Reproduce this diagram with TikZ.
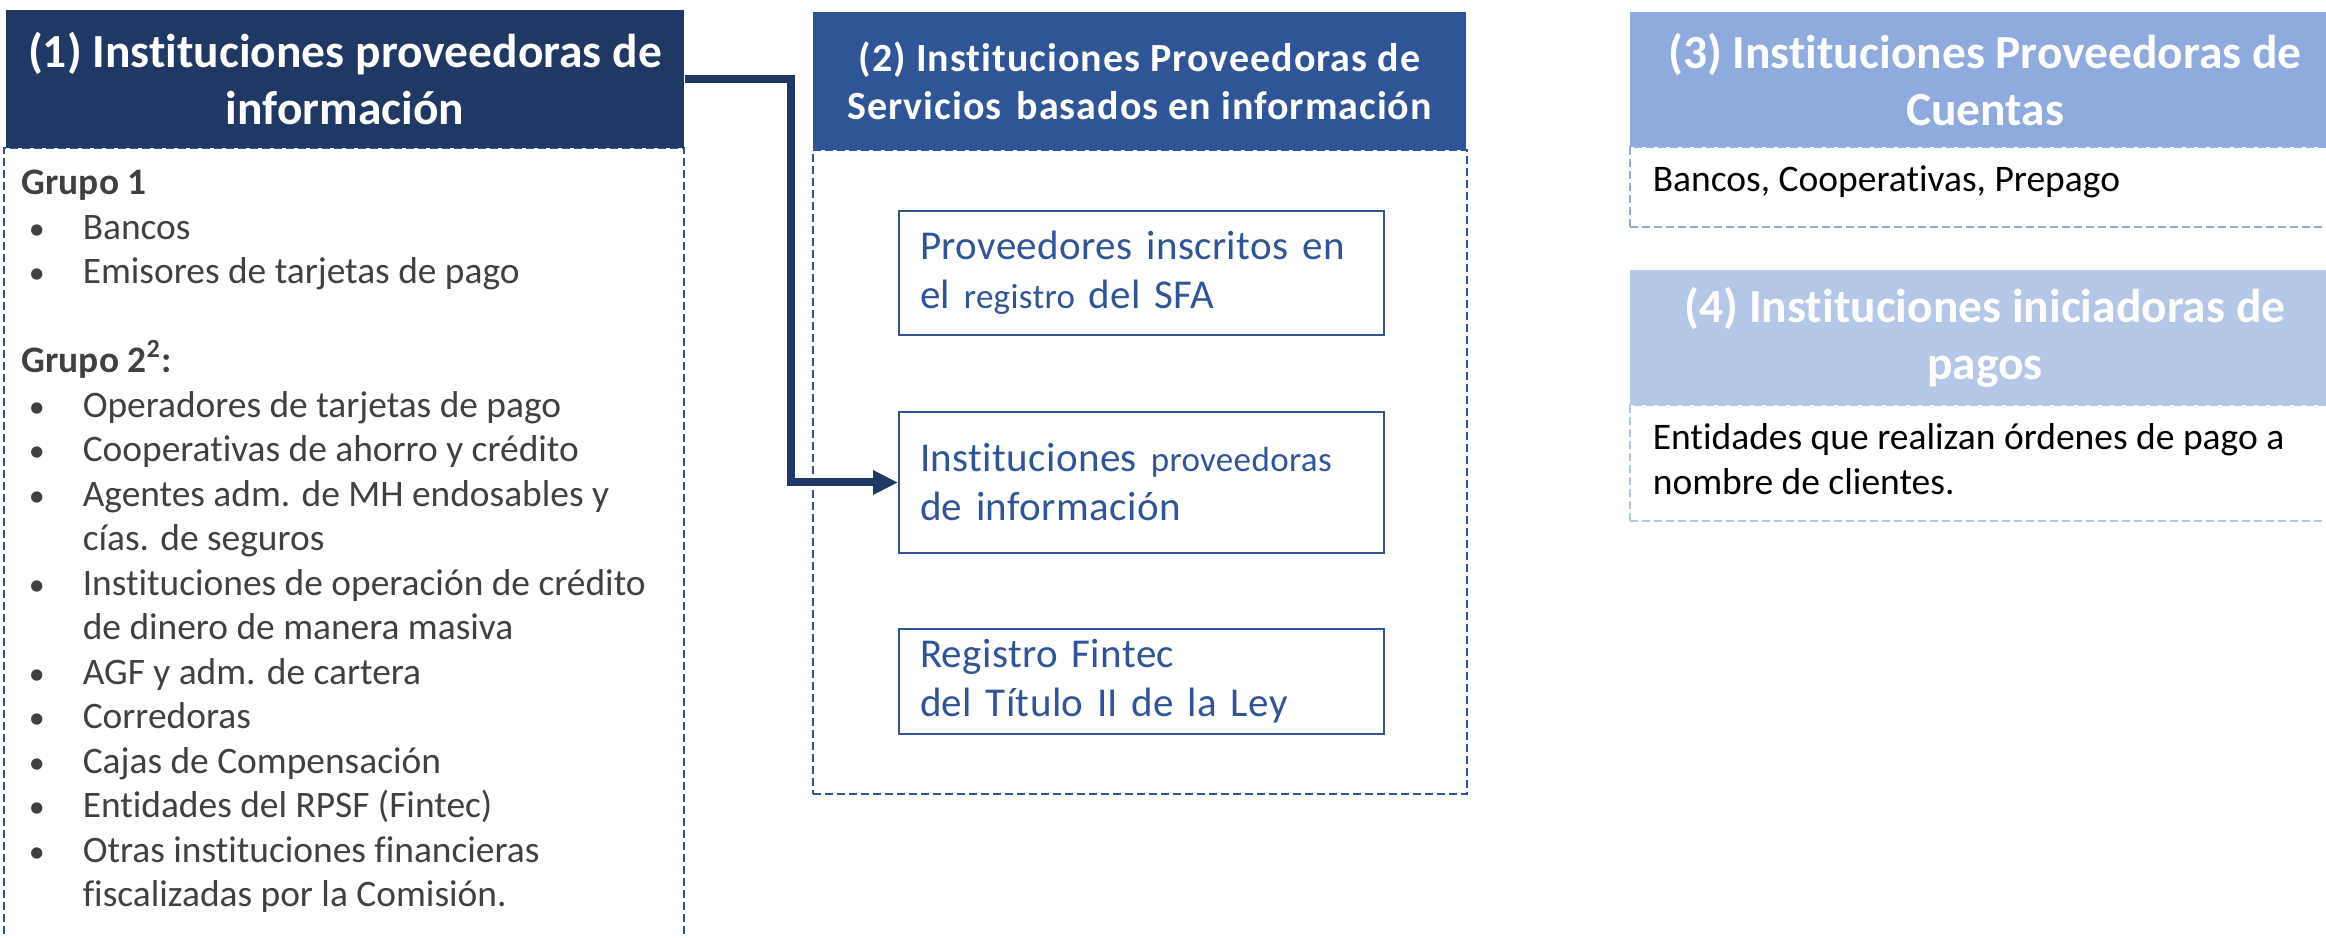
\documentclass[tikz,border=0pt]{standalone}
\usepackage{fontspec}
\setmainfont{Carlito}[RawFeature={-liga;-clig;-calt}]
\newfontfamily\spaced[LetterSpace=2.5,RawFeature={-liga;-clig;-calt}]{Carlito}
\newfontfamily\airy[LetterSpace=1,RawFeature={-liga;-clig;-calt}]{Carlito}
\usetikzlibrary{arrows.meta}
\definecolor{navy}{HTML}{203864}
\definecolor{blue2}{HTML}{2F5597}
\definecolor{blue3}{HTML}{8FAADC}
\definecolor{blue4}{HTML}{B4C7E7}
\definecolor{gray}{HTML}{404040}
\newcommand\grp[1]{\textbf{#1}}
\newcommand\itm[1]{\hspace*{1.75pt}\makebox[13.5pt][l]{\fontsize{8}{8}\selectfont\textbullet}#1}
\newcommand\cnt[1]{\hspace*{15.25pt}#1}
\newcommand\sm[1]{{\fontsize{8.75}{12.25}\selectfont #1}}

\begin{document}
\begin{tikzpicture}[x=0.25pt,y=-0.25pt,
  hdr/.style={inner sep=0pt,text=white,align=center,font=\bfseries\fontsize{11.875}{14.25}\selectfont},
  frame/.style={draw,dash pattern=on 2pt off 1pt,line width=0.5pt,inner sep=0pt},
  inbox/.style={draw=blue2,line width=0.5pt,minimum width=121.25pt,text width=110.75pt,inner xsep=5.25pt,inner ysep=0pt,align=left,text=blue2,font=\airy\fontsize{10.25}{12.25}\selectfont},
  line/.style={anchor=base west,inner sep=0pt,font=\fontsize{9.375}{11.25}\selectfont},
  arr/.style={navy,line width=2pt,-{Triangle[length=6.25pt,width=5.75pt]}}]
\useasboundingbox (0,0) rectangle (2326,938);
\clip (0,0) rectangle (2326,938);

\node[frame,draw=blue2,minimum width=170pt,minimum height=200.5pt] (b1) at (344,549) {};
\node[hdr,fill=navy,minimum width=169.5pt,minimum height=34.5pt] (h1) at (345,79) {(1) Instituciones proveedoras de\\información};
\foreach \t [count=\i from 0] in {{\grp{Grupo 1}},{\itm{Bancos}},{\itm{Emisores de tarjetas de pago}},{},
    {\grp{Grupo 2\textsuperscript{2}:}},{\itm{Operadores de tarjetas de pago}},{\itm{Cooperativas de ahorro y crédito}},
    {\itm{Agentes adm. de MH endosables y}},{\cnt{cías. de seguros}},{\itm{Instituciones de operación de crédito}},
    {\cnt{de dinero de manera masiva}},{\itm{AGF y adm. de cartera}},{\itm{Corredoras}},{\itm{Cajas de Compensación}},
    {\itm{Entidades del RPSF (Fintec)}},{\itm{Otras instituciones financieras}},{\cnt{fiscalizadas por la Comisión.}}}
  \node[line,text=gray,font=\fontsize{9.35}{11.125}\selectfont] (g\i) at (21,{195+44.5*\i}) {\t};

\node[frame,draw=blue2,minimum width=163.5pt,minimum height=161pt] (b2) at (1140,472) {};
\node[hdr,fill=blue2,minimum width=163.25pt,minimum height=34.5pt,font=\spaced\bfseries\fontsize{10}{12}\selectfont] (h2) at (1139.5,81) {(2) Instituciones Proveedoras de\\Servicios\hspace{1.25pt} basados en información};
\node[inbox,minimum height=31pt] (ia) at (1141.5,273) {Proveedores inscritos en\\el \sm{registro} del SFA};
\node[inbox,minimum height=35.25pt] (ib) at (1141.5,482.5) {Instituciones \sm{proveedoras}\\de información};
\node[inbox,minimum height=26.25pt] (ic) at (1141.5,681.5) {Registro Fintec\\del Título II de la Ley};

\coordinate (k) at (791,300);
\draw[arr] (h1.east) -| (k) |- (ib.west);

\node[frame,draw=blue3,minimum width=177.5pt,minimum height=20pt] (b3) at (1985,187) {};
\node[hdr,fill=blue3,minimum width=177.5pt,minimum height=33.75pt] (h3) at (1985,79.5) {(3) Instituciones Proveedoras de\\Cuentas};
\node[line] (t3) at (1652,192) {Bancos, Cooperativas, Prepago};

\node[frame,draw=blue4,minimum width=177.5pt,minimum height=29pt] (b4) at (1985,463) {};
\node[hdr,fill=blue4,minimum width=177.5pt,minimum height=33.75pt] (h4) at (1985,337.5) {(4) Instituciones iniciadoras de\\pagos};
\node[line] (t4a) at (1652,450) {Entidades que realizan órdenes de pago a};
\node[line] (t4b) at (1652,495) {nombre de clientes.};
\end{tikzpicture}
\end{document}
